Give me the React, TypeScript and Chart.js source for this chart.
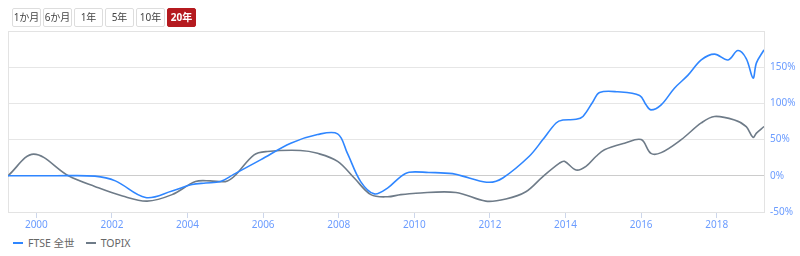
import React, { useEffect, useRef } from "react";
import { Chart, registerables } from "chart.js";

Chart.register(...registerables);

const rangeButtons = ["1か月", "6か月", "1年", "5年", "10年", "20年"];
const selectedRange = "20年";

const seriesNames = ["FTSE 全世", "TOPIX"];
const seriesColors = ["#2f86ff", "#6e7b88"];

const xTickYears = [2000, 2002, 2004, 2006, 2008, 2010, 2012, 2014, 2016, 2018];

const ftseYears = [
  1999.25, 2000.5, 2001.55, 2002.09, 2002.89, 2003.59, 2004.12, 2004.48, 2004.87,
  2005.22, 2005.93, 2006.73, 2007.44, 2007.97, 2008.23, 2008.58, 2008.94, 2009.29,
  2009.64, 2009.86, 2010.38, 2011.01, 2011.45, 2011.98, 2012.34, 2013.04, 2013.4,
  2013.75, 2013.93, 2014.28, 2014.46, 2014.72, 2014.9, 2015.38, 2015.96, 2016.13,
  2016.26, 2016.53, 2016.88, 2017.24, 2017.59, 2017.94, 2018.3, 2018.56, 2018.78,
  2018.96, 2019.05, 2019.25,
];
const ftseValues = [
  0, 0, -0.5, -7, -30, -21, -12, -10, -8,
  2, 22, 45, 57, 58, 31, -8, -25, -17,
  -1, 5, 4.6, 3, -3, -9, -3, 27, 50,
  73, 77, 78, 82, 102, 115, 116, 111, 98,
  91, 98, 121, 139, 160, 168, 160, 173, 162,
  135, 156, 174,
];

const topixYears = [
  1999.25, 1999.93, 2000.85, 2001.56, 2002.28, 2002.93, 2003.59, 2004.21, 2004.6,
  2005.0, 2005.23, 2005.76, 2006.11, 2006.99, 2007.44, 2007.97, 2008.41, 2008.85,
  2009.29, 2009.64, 2010.04, 2011.1, 2011.89, 2012.42, 2012.95, 2013.4, 2013.84,
  2013.97, 2014.28, 2014.54, 2014.81, 2015.03, 2015.56, 2016.0, 2016.26, 2016.53,
  2017.06, 2017.59, 2017.94, 2018.47, 2018.78, 2018.96, 2019.05, 2019.25,
];
const topixValues = [
  0, 30, 0, -15, -28, -35, -26, -8, -7,
  -8, -1, 29, 33.6, 35, 31, 20, -3, -26,
  -29, -26, -24, -23, -35, -32, -22, -1, 17.5,
  20, 8, 13, 27, 36, 45, 50, 31, 32,
  50, 73, 82, 77, 68, 53, 59, 68,
];

const yMin = -50;
const yMax = 200;
const yStep = 50;

const labelBlue = "#6b9cff";
const fontFamily = "'Noto Sans', 'Noto Sans CJK JP', sans-serif";

const frame = {
  id: "frame",
  beforeDatasetsDraw(chart: any) {
    const { ctx, chartArea } = chart;
    ctx.save();
    ctx.strokeStyle = "#e3e3e3";
    ctx.lineWidth = 1;
    ctx.strokeRect(
      Math.round(chartArea.left) + 0.5,
      Math.round(chartArea.top) + 0.5,
      Math.round(chartArea.right - chartArea.left),
      Math.round(chartArea.bottom - chartArea.top)
    );
    ctx.restore();
  },
};

export default function App() {
  const canvasRef = useRef<HTMLCanvasElement | null>(null);

  useEffect(() => {
    document.body.style.margin = "0";
    const canvas = canvasRef.current;
    if (!canvas) return;
    const chart = new Chart(canvas, {
      type: "line",
      data: {
        datasets: [
          {
            label: seriesNames[0],
            data: ftseYears.map((x, i) => ({ x, y: ftseValues[i] })),
            borderColor: seriesColors[0],
            backgroundColor: seriesColors[0],
            borderWidth: 1.6,
            pointRadius: 0,
            tension: 0.35,
          },
          {
            label: seriesNames[1],
            data: topixYears.map((x, i) => ({ x, y: topixValues[i] })),
            borderColor: seriesColors[1],
            backgroundColor: seriesColors[1],
            borderWidth: 1.6,
            pointRadius: 0,
            tension: 0.35,
          },
        ],
      },
      options: {
        animation: false,
        responsive: false,
        maintainAspectRatio: false,
        layout: { padding: { top: 31, left: 8, right: 0, bottom: 0 } },
        plugins: { legend: { display: false }, tooltip: { enabled: false } },
        scales: {
          x: {
            type: "linear",
            min: 1999.25,
            max: 2019.25,
            afterBuildTicks: (scale: any) => {
              scale.ticks = xTickYears.map((v) => ({ value: v }));
            },
            afterFit: (scale: any) => {
              scale.height = 20;
              scale.paddingLeft = 0;
              scale.paddingRight = 0;
            },
            grid: {
              display: true,
              drawOnChartArea: false,
              drawTicks: true,
              tickLength: 6,
              color: "#ccd6eb",
            },
            border: { display: true, color: "#ccd6eb" },
            ticks: {
              color: labelBlue,
              font: { family: fontFamily, size: 10 },
              padding: 1,
              maxRotation: 0,
              callback: (v: any) => String(v),
            },
          },
          y: {
            position: "right",
            min: yMin,
            max: yMax,
            afterFit: (scale: any) => {
              scale.width = 36;
              scale.paddingTop = 0;
              scale.paddingBottom = 0;
            },
            grid: {
              drawTicks: false,
              color: (c: any) => (c.tick && c.tick.value === 0 ? "#cccccc" : "#e6e6e6"),
            },
            border: { display: false },
            ticks: {
              stepSize: yStep,
              color: labelBlue,
              padding: 6,
              font: { family: fontFamily, size: 10 },
              callback: (v: any) => (v === yMax ? "" : `${v}%`),
            },
          },
        },
      },
      plugins: [frame],
    });
    return () => chart.destroy();
  }, []);

  return (
    <div style={{ position: "relative", width: 800, height: 256, fontFamily, overflow: "hidden" }}>
      <canvas
        ref={canvasRef}
        width={800}
        height={232}
        style={{ position: "absolute", left: 0, top: 0, width: 800, height: 232 }}
      />
      <div style={{ position: "absolute", left: 12, top: 8, display: "flex" }}>
        {rangeButtons.map((b) => {
          const sel = b === selectedRange;
          return (
            <div
              key={b}
              style={{
                width: 27,
                height: 17,
                border: sel ? "1px solid #b51a1f" : "1px solid #dddddd",
                borderRadius: 2,
                background: sel ? "#b51a1f" : "#ffffff",
                color: sel ? "#ffffff" : "#444444",
                fontWeight: sel ? 700 : 400,
                fontSize: 10,
                lineHeight: "17px",
                textAlign: "center",
                marginRight: 2,
              }}
            >
              {b}
            </div>
          );
        })}
      </div>
      <div
        style={{
          position: "absolute",
          left: 13,
          top: 236,
          display: "flex",
          alignItems: "center",
          fontSize: 10.5,
          color: "#666666",
          lineHeight: "14px",
        }}
      >
        {seriesNames.map((n, i) => (
          <div key={n} style={{ display: "flex", alignItems: "center", marginRight: 11 }}>
            <span
              style={{
                display: "inline-block",
                width: 10,
                height: 2,
                background: seriesColors[i],
                marginRight: 5,
              }}
            />
            <span>{n}</span>
          </div>
        ))}
      </div>
    </div>
  );
}
